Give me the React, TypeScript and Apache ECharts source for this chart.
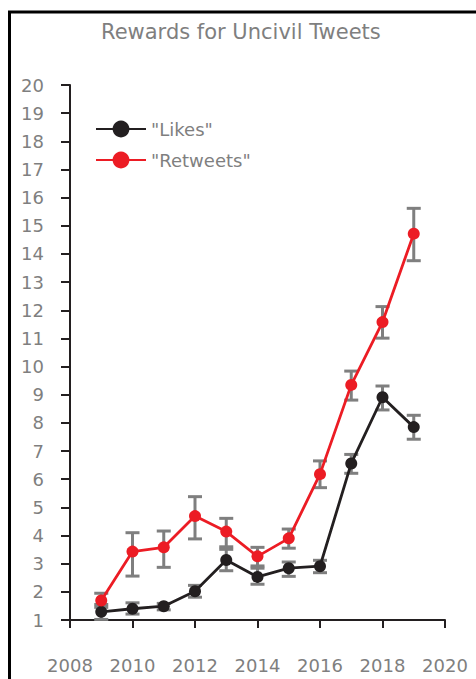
import React, { useEffect, useRef } from "react";
import * as echarts from "echarts";

const years = [2009, 2010, 2011, 2012, 2013, 2014, 2015, 2016, 2017, 2018, 2019];
const likes = [1.29, 1.4, 1.49, 2.02, 3.13, 2.53, 2.84, 2.91, 6.56, 8.91, 7.85];
const likesLow = [1.02, 1.21, 1.36, 1.81, 2.75, 2.27, 2.55, 2.68, 6.21, 8.46, 7.42];
const likesHigh = [1.55, 1.61, 1.59, 2.23, 3.6, 2.92, 3.06, 3.12, 6.88, 9.31, 8.27];
const retweets = [1.69, 3.43, 3.58, 4.69, 4.14, 3.26, 3.9, 6.18, 9.35, 11.58, 14.72];
const retweetsLow = [1.45, 2.56, 2.87, 3.88, 3.51, 2.84, 3.55, 5.7, 8.81, 11.01, 13.76];
const retweetsHigh = [1.95, 4.1, 4.16, 5.38, 4.61, 3.58, 4.23, 6.65, 9.84, 12.13, 15.62];

const FONT = "DejaVu Sans";
const GRAY = "#7f7f7f";
const BLACK = "#231f20";
const RED = "#ec1c24";

function errorBars(low: number[], high: number[]) {
  return {
    type: "custom",
    z: 1,
    silent: true,
    data: years.map((y, i) => [y, low[i], high[i]]),
    renderItem: (params: any, api: any) => {
      const x = api.value(0);
      const lo = api.coord([x, api.value(1)]);
      const hi = api.coord([x, api.value(2)]);
      const w = 7;
      const style = { stroke: GRAY, lineWidth: 3 };
      return {
        type: "group",
        children: [
          { type: "line", shape: { x1: lo[0], y1: lo[1], x2: hi[0], y2: hi[1] }, style },
          { type: "line", shape: { x1: lo[0] - w, y1: lo[1], x2: lo[0] + w, y2: lo[1] }, style },
          { type: "line", shape: { x1: hi[0] - w, y1: hi[1], x2: hi[0] + w, y2: hi[1] }, style },
        ],
      };
    },
  };
}

export default function App() {
  const ref = useRef<HTMLDivElement>(null);
  useEffect(() => {
    const chart = echarts.init(ref.current!, null, { renderer: "svg" });
    chart.setOption({
      animation: false,
      backgroundColor: "#ffffff",
      title: {
        text: "Rewards for Uncivil Tweets",
        left: 96,
        top: 16,
        textStyle: { fontFamily: FONT, fontSize: 21, fontWeight: "normal", color: GRAY },
      },
      graphic: [
        {
          type: "rect",
          shape: { x: 9.5, y: 12, width: 700, height: 900 },
          style: { fill: "none", stroke: "#000", lineWidth: 3 },
          silent: true,
        },
      ],
      legend: {
        orient: "vertical",
        left: 95,
        top: 120,
        padding: 0,
        itemWidth: 50,
        itemHeight: 21,
        itemGap: 13,
        textStyle: { fontFamily: FONT, fontSize: 18, color: GRAY },
        data: ['"Likes"', '"Retweets"'],
      },
      grid: { left: 70, right: 31, top: 85, bottom: 59 },
      xAxis: {
        type: "value",
        min: 2008,
        max: 2020,
        interval: 2,
        splitLine: { show: false },
        axisLine: { lineStyle: { color: BLACK, width: 2 } },
        axisTick: { length: 8, lineStyle: { color: BLACK, width: 2 } },
        axisLabel: {
          margin: 36,
          fontFamily: FONT,
          fontSize: 18,
          color: GRAY,
          formatter: (v: number) => String(v),
        },
      },
      yAxis: {
        type: "value",
        min: 1,
        max: 20,
        interval: 1,
        splitLine: { show: false },
        axisLine: { show: true, lineStyle: { color: BLACK, width: 2 } },
        axisTick: { show: true, length: 9, lineStyle: { color: BLACK, width: 2 } },
        axisLabel: { margin: 26, fontFamily: FONT, fontSize: 18, color: GRAY },
      },
      series: [
        errorBars(likesLow, likesHigh),
        errorBars(retweetsLow, retweetsHigh),
        {
          name: '"Likes"',
          type: "line",
          z: 3,
          data: years.map((y, i) => [y, likes[i]]),
          symbol: "circle",
          symbolSize: 12,
          lineStyle: { color: BLACK, width: 2.8 },
          itemStyle: { color: BLACK },
        },
        {
          name: '"Retweets"',
          type: "line",
          z: 4,
          data: years.map((y, i) => [y, retweets[i]]),
          symbol: "circle",
          symbolSize: 12,
          lineStyle: { color: RED, width: 2.8 },
          itemStyle: { color: RED },
        },
      ],
    });
    return () => chart.dispose();
  }, []);
  return (
    <div
      ref={ref}
      style={{ position: "absolute", left: 0, top: 0, width: 476, height: 679 }}
    />
  );
}
